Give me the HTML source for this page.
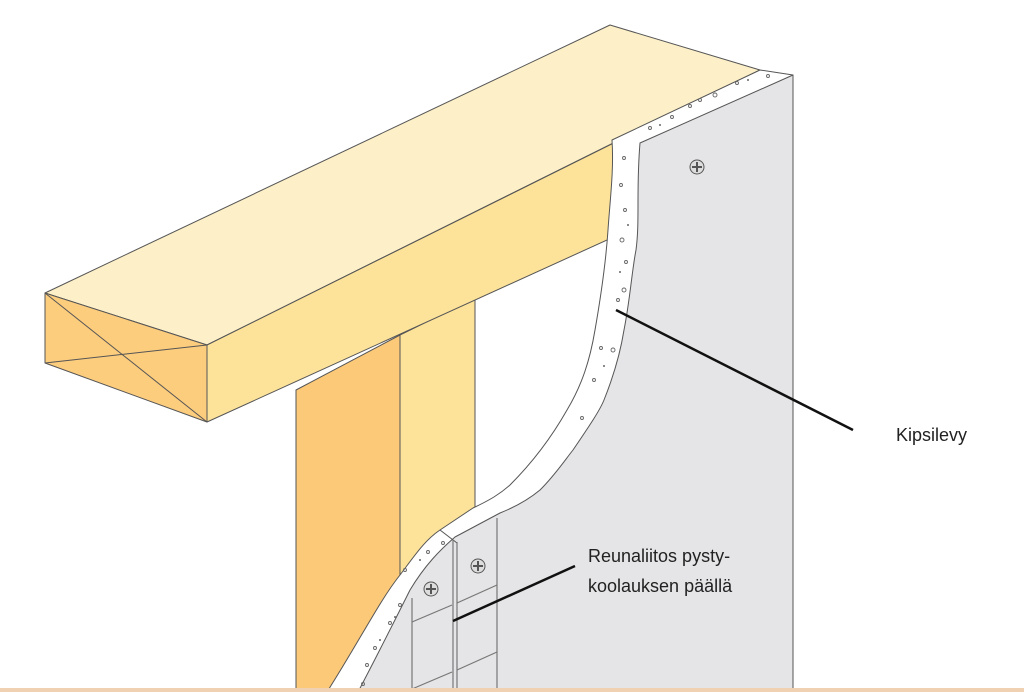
<!DOCTYPE html>
<html><head><meta charset="utf-8"><style>
html,body{margin:0;padding:0;background:#fff;}
svg{display:block}
text{font-family:"Liberation Sans",sans-serif;fill:#222}
</style></head><body>
<svg width="1024" height="692" viewBox="0 0 1024 692" xmlns="http://www.w3.org/2000/svg">
<g stroke="#555" stroke-width="1" stroke-linejoin="round">
<!-- studs -->
<polygon points="296,390 400,335 400,692 296,692" fill="#fbc978"/>
<polygon points="400,335 475,298 475,692 400,692" fill="#fde39a"/>
<!-- beam -->
<polygon points="45,293 610,25 760,70 207,345" fill="#fdf0c8"/>
<polygon points="207,345 640,130 640,225 207,422" fill="#fde39a"/>
<polygon points="45,293 207,345 207,422 45,363" fill="#fdcd7e"/>
<line x1="45" y1="293" x2="207" y2="422"/>
<line x1="45" y1="363" x2="207" y2="345"/>
<!-- gypsum white edge strip -->
<path d="M612,140 L760,70 L793,75 L793,692 L327,692 C360,640 380,600 400,575 C415,555 425,540 440,530 L473,508 C490,500 500,494 510,485 C530,465 550,440 567,410 C582,385 590,360 595,330 C602,290 606,260 608,230 C610,200 614,170 612,140 Z" fill="#fff"/>
<!-- gray board -->
<path d="M640,143 L793,75 L793,692 L358,692 C380,650 395,620 410,590 C425,565 440,550 455,537 L500,513 C515,507 528,500 540,490 C555,475 565,460 573,450 C590,425 600,410 604,400 C612,380 620,355 624,330 C630,300 632,270 636,250 C640,220 636,190 640,143 Z" fill="#e5e5e7"/>
<line x1="440" y1="530" x2="457" y2="543"/>
</g>
<!-- joint lines -->
<g stroke="#777" stroke-width="1.2" fill="none">
<line x1="412" y1="598" x2="412" y2="692"/>
<line x1="453" y1="540" x2="453" y2="692"/>
<line x1="457" y1="542" x2="457" y2="692"/>
<line x1="497" y1="518" x2="497" y2="692"/>
<line x1="412" y1="622" x2="452" y2="605"/>
<line x1="412" y1="689" x2="452" y2="672"/>
<line x1="457" y1="603" x2="497" y2="585"/>
<line x1="457" y1="670" x2="497" y2="652"/>
</g>
<!-- dots -->
<g fill="none" stroke="#666" stroke-width="0.9">
<circle cx="624" cy="158" r="1.5"/><circle cx="621" cy="185" r="1.5"/><circle cx="625" cy="210" r="1.5"/><circle cx="622" cy="240" r="2"/><circle cx="626" cy="262" r="1.5"/><circle cx="624" cy="290" r="2"/><circle cx="618" cy="300" r="1.5"/><circle cx="613" cy="350" r="2"/><circle cx="601" cy="348" r="1.5"/><circle cx="594" cy="380" r="1.5"/><circle cx="582" cy="418" r="1.5"/>
<circle cx="650" cy="128" r="1.5"/><circle cx="672" cy="117" r="1.5"/><circle cx="700" cy="100" r="1.5"/><circle cx="715" cy="95" r="2"/><circle cx="737" cy="83" r="1.5"/><circle cx="768" cy="76" r="1.5"/><circle cx="690" cy="106" r="1.5"/>
<circle cx="443" cy="543" r="1.5"/><circle cx="428" cy="552" r="1.5"/><circle cx="405" cy="570" r="1.5"/><circle cx="400" cy="605" r="1.5"/><circle cx="390" cy="623" r="1.5"/><circle cx="375" cy="648" r="1.5"/><circle cx="367" cy="665" r="1.5"/><circle cx="363" cy="684" r="1.5"/>
</g>
<g fill="#666">
<circle cx="628" cy="225" r="1"/><circle cx="620" cy="272" r="1"/><circle cx="604" cy="366" r="1"/><circle cx="660" cy="125" r="1"/><circle cx="748" cy="80" r="1"/><circle cx="420" cy="560" r="1"/><circle cx="395" cy="617" r="1"/><circle cx="380" cy="640" r="1"/>
</g>
<!-- screws -->
<g stroke="#555" fill="#ddd" stroke-width="1">
<circle cx="697" cy="167" r="7"/><circle cx="431" cy="589" r="7"/><circle cx="478" cy="566" r="7"/>
</g>
<g stroke="#555" stroke-width="2">
<path d="M697,162 V172 M692,167 H702"/><path d="M431,584 V594 M426,589 H436"/><path d="M478,561 V571 M473,566 H483"/>
</g>
<!-- bottom strip -->
<rect x="0" y="688" width="1024" height="4" fill="#f0d2b2"/>
<!-- leaders -->
<g stroke="#111" stroke-width="2.5">
<line x1="616" y1="310" x2="853" y2="430"/>
<line x1="453" y1="621" x2="575" y2="566"/>
</g>
<text x="896" y="441" font-size="18">Kipsilevy</text>
<text x="588" y="562" font-size="18">Reunaliitos pysty-</text>
<text x="588" y="592" font-size="18">koolauksen päällä</text>
</svg>
</body></html>
